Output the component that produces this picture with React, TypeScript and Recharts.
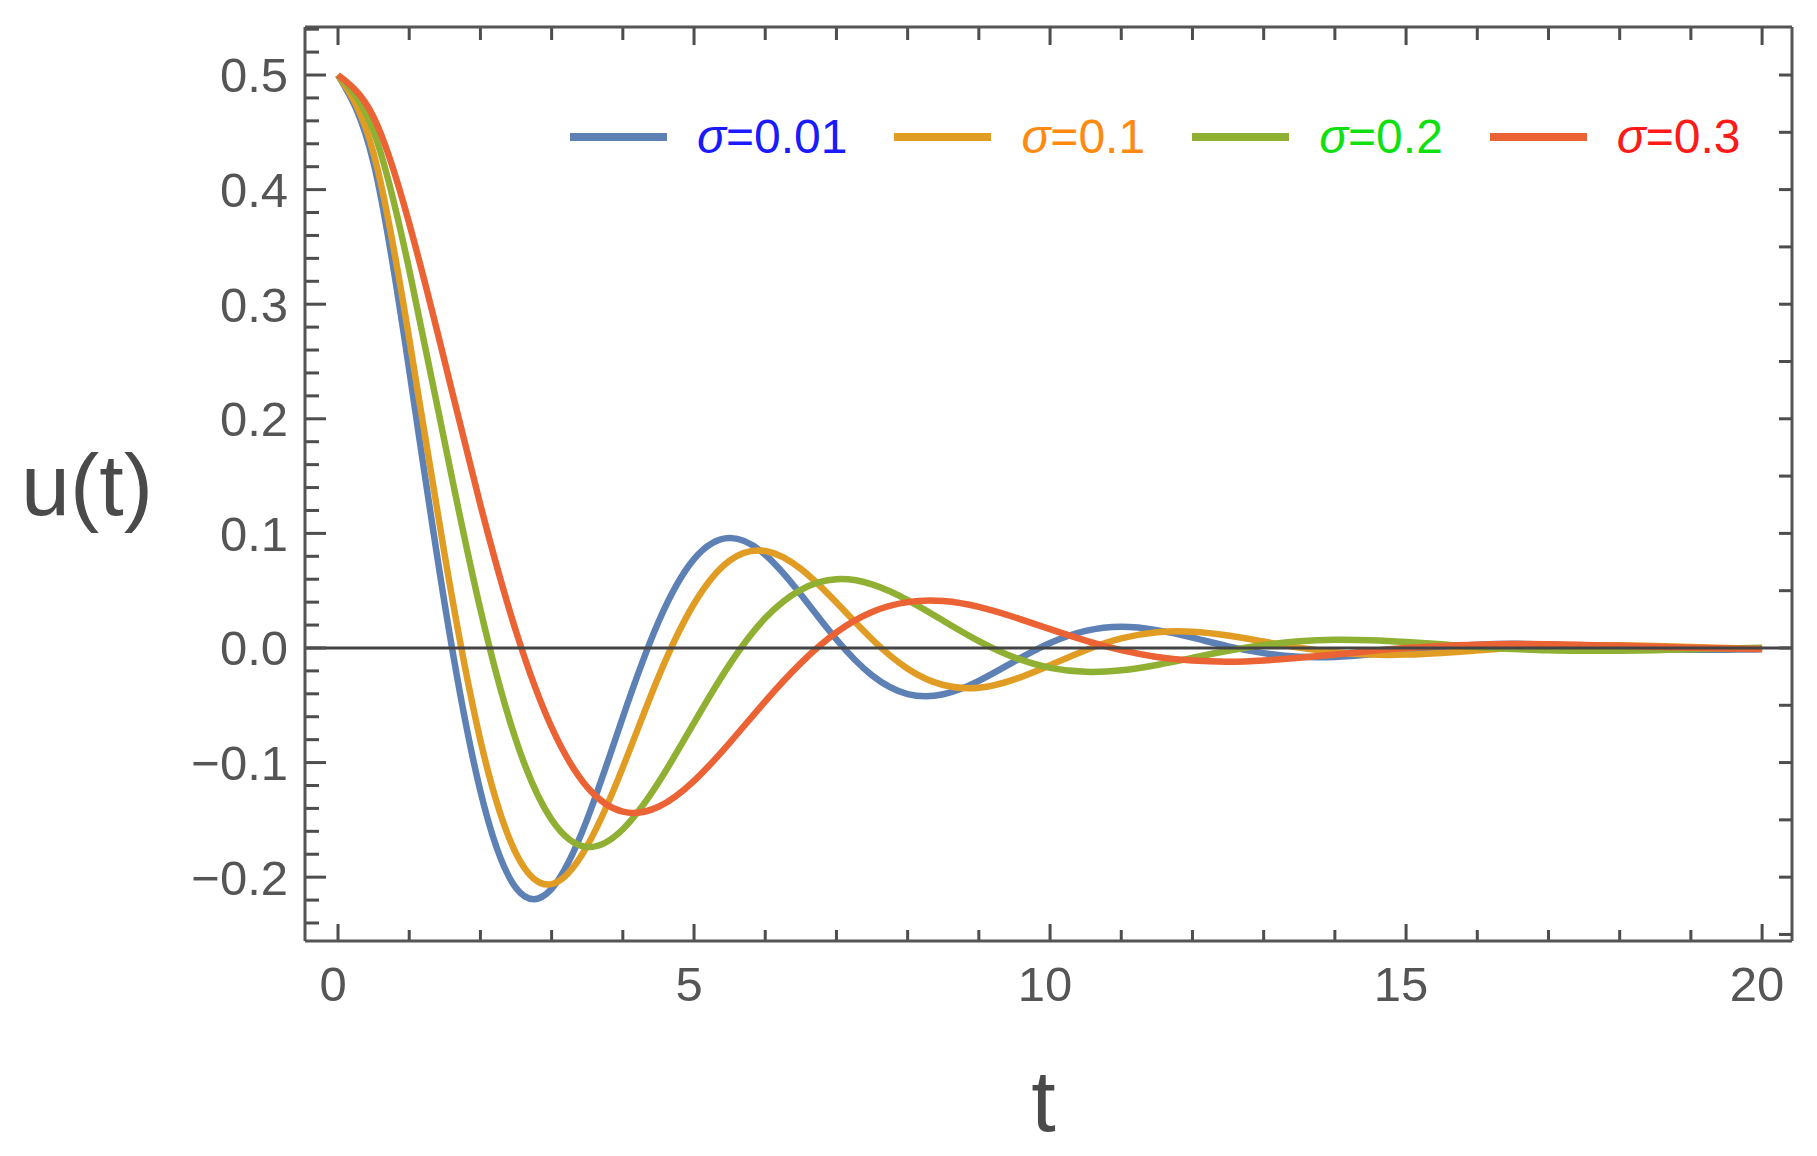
import React from 'react';
import { LineChart, Line, XAxis, YAxis, ReferenceLine, Legend, Label } from 'recharts';

// ---- data ----
const T = [0, 0.5, 1, 1.5, 2, 2.5, 3, 3.5, 4, 4.5, 5, 5.5, 6, 6.5, 7, 7.5, 8, 8.5, 9, 9.5, 10,
  10.5, 11, 11.5, 12, 12.5, 13, 13.5, 14, 14.5, 15, 15.5, 16, 16.5, 17, 17.5, 18, 18.5, 19, 19.5, 20];

const U_S001 = [0.5, 0.4232, 0.2426, 0.0378, -0.125, -0.2094, -0.2101, -0.1493, -0.0604, 0.0226, 0.0775,
  0.0959, 0.0814, 0.0467, 0.0074, -0.0239, -0.0402, -0.0404, -0.0287, -0.0117, 0.0043,
  0.0149, 0.0185, 0.0156, 0.009, 0.0014, -0.0045, -0.0077, -0.0078, -0.0055, -0.0022,
  0.0008, 0.0028, 0.0036, 0.0031, 0.0017, 0.0003, -0.0009, -0.0015, -0.0015, -0.0011];

const U_S01 = [0.5, 0.4317, 0.2699, 0.0804, -0.0807, -0.1793, -0.2061, -0.1727, -0.1042, -0.0253, 0.0386,
  0.0763, 0.0846, 0.069, 0.0396, 0.0076, -0.0181, -0.0323, -0.0347, -0.0274, -0.015,
  -0.0019, 0.0083, 0.0137, 0.0142, 0.0109, 0.0056, 0.0003, -0.0037, -0.0058, -0.0058,
  -0.0043, -0.0021, 0.0001, 0.0017, 0.0024, 0.0023, 0.0017, 0.0008, -0.0001, -0.0007];

const U_S02 = [0.5, 0.4508, 0.3301, 0.1789, 0.0335, -0.0806, -0.1498, -0.1737, -0.1582, -0.1175, -0.0653,
  -0.0143, 0.0261, 0.0508, 0.06, 0.0555, 0.0418, 0.0238, 0.006, -0.0083, -0.0174,
  -0.0208, -0.0195, -0.0148, -0.0086, -0.0024, 0.0026, 0.0059, 0.0072, 0.0068, 0.0053,
  0.0032, 0.0009, -0.0008, -0.002, -0.0024, -0.0024, -0.0019, -0.0011, -0.0004, 0.0003];

const U_S03 = [0.5, 0.4633, 0.3706, 0.2496, 0.1248, 0.0145, -0.0692, -0.1214, -0.1428, -0.1386, -0.1159,
  -0.0828, -0.0465, -0.0132, 0.0136, 0.0314, 0.04, 0.0409, 0.0358, 0.0268, 0.0165,
  0.0065, -0.0019, -0.0078, -0.011, -0.012, -0.0109, -0.0086, -0.0057, -0.0027, -0.0001,
  0.0018, 0.0029, 0.0034, 0.0033, 0.0027, 0.0019, 0.001, 0.0002, -0.0004, -0.0008];

const SIGMA_LABELS = ['0.01', '0.1', '0.2', '0.3'];
const SERIES_KEYS = ['s001', 's01', 's02', 's03'];
const LINE_COLORS = ['#5E81B5', '#E19C24', '#8FB032', '#EB6235'];
const TEXT_COLORS = ['#1a1aff', '#ff8a10', '#10e010', '#ff1a1a'];

const X_TICKS = [0, 5, 10, 15, 20];
const X_MINOR = [1, 2, 3, 4, 6, 7, 8, 9, 11, 12, 13, 14, 16, 17, 18, 19];
const Y_TICKS = [-0.2, -0.1, 0, 0.1, 0.2, 0.3, 0.4, 0.5];
const Y_MINOR = [-0.24, -0.22, -0.18, -0.16, -0.14, -0.12, -0.08, -0.06, -0.04, -0.02,
  0.02, 0.04, 0.06, 0.08, 0.12, 0.14, 0.16, 0.18, 0.22, 0.24, 0.26, 0.28,
  0.32, 0.34, 0.36, 0.38, 0.42, 0.44, 0.46, 0.48, 0.52, 0.54];
const Y_RIGHT = [-0.25, -0.2, -0.15, -0.1, -0.05, 0, 0.05, 0.1, 0.15, 0.2, 0.25, 0.3, 0.35, 0.4, 0.45, 0.5];

const X_DOMAIN = [-0.4635, 20.42];
const Y_DOMAIN = [-0.2557, 0.5419];

const rows = T.map((t, i) => ({
  t,
  s001: U_S001[i],
  s01: U_S01[i],
  s02: U_S02[i],
  s03: U_S03[i],
}));

const FONT = '"Liberation Sans", Arial, Helvetica, sans-serif';
const AX = '#555555';
const FRAME = { stroke: AX, strokeWidth: 3 };
const TICK = { stroke: '#4d4d4d', strokeWidth: 3 };
const X_TICK_TEXT = { fontSize: 49, fill: '#555555', fontFamily: FONT, dx: -5 };
const Y_TICK_TEXT = { fontSize: 49, fill: '#555555', fontFamily: FONT };
const THIN = 0.01;
const noLabel = () => '';

const fmtY = (v: number) => {
  if (Math.abs(v) < 1e-9) return '0.0';
  if (v < 0) return '\u2212' + Math.abs(v).toFixed(1);
  return v.toFixed(1);
};

const renderLegend = () => (
  <div style={{ display: 'flex', alignItems: 'center', height: 60, fontFamily: FONT, fontSize: 48, lineHeight: '60px', whiteSpace: 'nowrap' }}>
    {SIGMA_LABELS.map((s, i) => (
      <div key={s} style={{ display: 'flex', alignItems: 'center', marginRight: 47 }}>
        <div style={{ width: 97, height: 8, background: LINE_COLORS[i], marginRight: 30 }} />
        <span style={{ color: TEXT_COLORS[i] }}><i>σ</i>={s}</span>
      </div>
    ))}
  </div>
);

const markAxisProps = { type: 'number' as const, allowDataOverflow: true, interval: 0 as const, tickFormatter: noLabel, tickLine: TICK, stroke: AX };

export default function App() {
  return (
    <div style={{ width: 1800, height: 1148, marginBottom: -8 }}>
      <LineChart width={1800} height={1148} data={rows} margin={{ top: 19, right: 16, bottom: 215, left: 297 }}>
        {/* tick-mark axes (inward) */}
        <XAxis xAxisId="minB" dataKey="t" domain={X_DOMAIN} orientation="bottom" mirror height={THIN}
          ticks={X_MINOR} tickSize={11} axisLine={false} {...markAxisProps} />
        <XAxis xAxisId="majB" dataKey="t" domain={X_DOMAIN} orientation="bottom" mirror height={THIN}
          ticks={X_TICKS} tickSize={17} axisLine={false} {...markAxisProps} />
        <XAxis xAxisId="minT" dataKey="t" domain={X_DOMAIN} orientation="top" mirror height={THIN}
          ticks={X_MINOR} tickSize={13} axisLine={false} {...markAxisProps} />
        <XAxis xAxisId="majT" dataKey="t" domain={X_DOMAIN} orientation="top" mirror height={THIN}
          ticks={X_TICKS} tickSize={18} axisLine={FRAME} {...markAxisProps} />
        <YAxis yAxisId="minL" domain={Y_DOMAIN} orientation="left" mirror width={THIN}
          ticks={Y_MINOR} tickSize={14} axisLine={false} {...markAxisProps} />
        <YAxis yAxisId="majL" domain={Y_DOMAIN} orientation="left" mirror width={THIN}
          ticks={Y_TICKS} tickSize={21} axisLine={false} {...markAxisProps} />
        <YAxis yAxisId="right" domain={Y_DOMAIN} orientation="right" mirror width={THIN}
          ticks={Y_RIGHT} tickSize={13} axisLine={FRAME} {...markAxisProps} />

        {/* main labelled axes */}
        <XAxis xAxisId="main" dataKey="t" type="number" domain={X_DOMAIN} allowDataOverflow orientation="bottom" height={THIN}
          ticks={X_TICKS} interval={0} tickLine={false} tickSize={0} tickMargin={25} axisLine={FRAME} tick={X_TICK_TEXT} stroke={AX}>
          <Label value="t" position="bottom" offset={128} dx={-5} fontSize={88} fill="#4a4a4a" fontFamily={FONT} />
        </XAxis>
        <YAxis yAxisId="main" type="number" domain={Y_DOMAIN} allowDataOverflow orientation="left" width={THIN}
          ticks={Y_TICKS} interval={0} tickLine={false} tickSize={0} tickMargin={17} axisLine={FRAME} tick={Y_TICK_TEXT}
          tickFormatter={fmtY} stroke={AX}>
          <Label value="u(t)" position="left" offset={152} fontSize={88} fill="#4a4a4a" fontFamily={FONT} />
        </YAxis>

        {SERIES_KEYS.map((k, i) => (
          <Line key={k} xAxisId="main" yAxisId="main" dataKey={k} name={'σ=' + SIGMA_LABELS[i]} type="natural"
            stroke={LINE_COLORS[i]} strokeWidth={6.5} dot={false} activeDot={false} isAnimationActive={false} />
        ))}

        <ReferenceLine xAxisId="main" yAxisId="main" y={0} stroke="#444444" strokeWidth={3} />

        <Legend layout="horizontal" verticalAlign="middle" align="center" content={renderLegend}
          wrapperStyle={{ left: 562, top: 99, width: 1200, height: 60 }} />
      </LineChart>
    </div>
  );
}
